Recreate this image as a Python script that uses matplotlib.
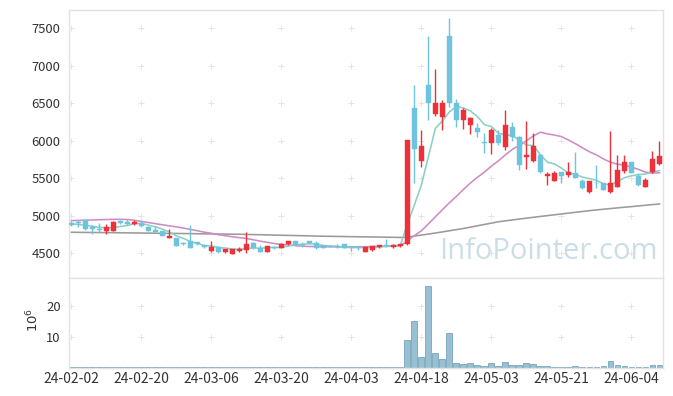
import matplotlib
matplotlib.use("Agg")
import matplotlib.pyplot as plt
import numpy as np

# ---------------- data ----------------
opens = [4905, 4915, 4944, 4845, 4830, 4802, 4802, 4925, 4918, 4887,
         4909, 4856, 4811, 4798, 4709, 4700, 4633, 4664, 4647, 4611,
         4531, 4589, 4518, 4487, 4536, 4544, 4642, 4567, 4522, 4585,
         4576, 4620, 4664, 4620, 4664, 4633, 4611, 4602, 4592, 4620,
         4575, 4575, 4522, 4540, 4580, 4607, 4580, 4598, 4620, 6433,
         5735, 6744, 6358, 6322, 7397, 6500, 6278, 6211, 6175, 5989,
         5967, 6078, 5922, 6189, 6056, 5790, 5735, 5811, 5536, 5469,
         5580, 5540, 5567, 5464, 5313, 5440, 5433, 5313, 5389, 5602,
         5713, 5531, 5389, 5589, 5691]
highs = [4935, 4945, 4950, 4880, 4905, 4885, 4925, 4940, 4958, 4950,
         4944, 4860, 4864, 4800, 4820, 4705, 4650, 4880, 4655, 4615,
         4664, 4595, 4560, 4560, 4589, 4790, 4650, 4611, 4600, 4602,
         4640, 4668, 4670, 4645, 4670, 4664, 4615, 4610, 4620, 4625,
         4590, 4600, 4585, 4602, 4615, 4695, 4620, 4625, 6011, 6744,
         6144, 7397, 6953, 6544, 7633, 6553, 6433, 6313, 6233, 6100,
         6167, 6144, 6411, 6247, 6060, 6269, 6100, 5830, 5589, 5602,
         5582, 5722, 5856, 5485, 5470, 5678, 5440, 6131, 5811, 5811,
         5720, 5565, 5510, 5864, 6002]
lows = [4860, 4850, 4815, 4760, 4790, 4758, 4800, 4890, 4878, 4878,
        4856, 4800, 4785, 4725, 4700, 4600, 4612, 4567, 4615, 4575,
        4522, 4510, 4510, 4485, 4522, 4509, 4560, 4522, 4515, 4560,
        4570, 4615, 4605, 4590, 4630, 4560, 4570, 4585, 4570, 4565,
        4535, 4540, 4520, 4535, 4575, 4589, 4575, 4590, 4611, 5442,
        5655, 6278, 6331, 6144, 6456, 6180, 6153, 6091, 6056, 5833,
        5822, 5950, 5878, 6000, 5611, 5624, 5722, 5567, 5411, 5460,
        5433, 5520, 5500, 5360, 5310, 5376, 5344, 5300, 5380, 5570,
        5567, 5400, 5389, 5567, 5680]
closes = [4878, 4905, 4820, 4822, 4805, 4845, 4915, 4900, 4887, 4922,
          4864, 4802, 4789, 4731, 4736, 4602, 4630, 4576, 4620, 4580,
          4584, 4513, 4553, 4553, 4562, 4624, 4567, 4522, 4598, 4575,
          4624, 4664, 4611, 4611, 4633, 4576, 4576, 4589, 4588, 4567,
          4571, 4571, 4580, 4598, 4611, 4600, 4611, 4620, 6011, 5887,
          5931, 6500, 6500, 6500, 6500, 6278, 6411, 6300, 6122, 5967,
          6144, 5967, 6211, 6047, 5680, 5811, 5931, 5589, 5558, 5567,
          5536, 5589, 5509, 5376, 5464, 5433, 5344, 5433, 5611, 5713,
          5567, 5411, 5478, 5758, 5798]
volume_m = [0.10, 0.08, 0.12, 0.09, 0.07, 0.08, 0.12, 0.08, 0.06, 0.07,
            0.08, 0.09, 0.07, 0.10, 0.08, 0.12, 0.07, 0.15, 0.08, 0.07,
            0.09, 0.10, 0.07, 0.08, 0.06, 0.14, 0.08, 0.07, 0.06, 0.05,
            0.07, 0.08, 0.06, 0.05, 0.06, 0.07, 0.05, 0.05, 0.04, 0.06,
            0.05, 0.05, 0.06, 0.06, 0.05, 0.08, 0.05, 0.06, 9.1, 15.3,
            3.4, 26.8, 4.8, 2.8, 11.3, 1.5, 1.2, 1.5, 0.8, 0.5,
            1.5, 0.5, 1.8, 0.8, 0.8, 1.5, 1.2, 0.5, 0.5, 0.15,
            0.12, 0.15, 0.5, 0.15, 0.12, 0.15, 0.5, 2.2, 0.8, 0.5,
            0.15, 0.15, 0.12, 0.8, 0.8]
ma5 = [4890, 4885, 4872, 4860, 4846, 4839, 4841, 4857, 4870, 4894,
       4898, 4875, 4853, 4822, 4784, 4732, 4698, 4655, 4633, 4602,
       4598, 4575, 4570, 4557, 4553, 4561, 4572, 4566, 4575, 4577,
       4577, 4597, 4614, 4617, 4629, 4619, 4601, 4597, 4592, 4579,
       4578, 4577, 4575, 4577, 4586, 4592, 4600, 4608, 4891, 5146,
       5412, 5790, 6166, 6264, 6386, 6456, 6438, 6398, 6322, 6216,
       6189, 6100, 6082, 6067, 6010, 5943, 5936, 5812, 5714, 5691,
       5636, 5568, 5552, 5515, 5495, 5474, 5425, 5410, 5457, 5507,
       5534, 5547, 5556, 5585, 5602]
ma20 = [4935, 4938, 4941, 4944, 4947, 4950, 4952, 4953, 4950, 4940,
        4925, 4910, 4895, 4880, 4866, 4852, 4836, 4818, 4800, 4781,
        4767, 4747, 4734, 4720, 4708, 4697, 4680, 4661, 4646, 4629,
        4617, 4610, 4601, 4595, 4590, 4589, 4586, 4587, 4585, 4585,
        4584, 4587, 4588, 4590, 4593, 4592, 4594, 4599, 4669, 4735,
        4800, 4892, 4987, 5081, 5174, 5259, 5351, 5437, 5513, 5583,
        5662, 5732, 5813, 5886, 5939, 6000, 6066, 6114, 6092, 6076,
        6056, 6010, 5961, 5905, 5853, 5811, 5757, 5714, 5688, 5676,
        5647, 5619, 5582, 5568, 5574]
ma120 = [4780, 4779, 4778, 4777, 4776, 4775, 4774, 4773, 4772, 4771,
         4770, 4769, 4767, 4766, 4765, 4764, 4763, 4762, 4760, 4759,
         4758, 4757, 4756, 4754, 4753, 4751, 4749, 4747, 4745, 4742,
         4740, 4738, 4736, 4734, 4732, 4729, 4727, 4726, 4724, 4723,
         4721, 4720, 4718, 4717, 4716, 4714, 4713, 4711, 4716, 4729,
         4743, 4756, 4770, 4785, 4800, 4815, 4830, 4848, 4866, 4884,
         4902, 4920, 4932, 4944, 4956, 4968, 4980, 4991, 5002, 5013,
         5024, 5035, 5046, 5057, 5068, 5078, 5087, 5096, 5105, 5114,
         5122, 5131, 5140, 5149, 5158]
tick_pos = [0, 10, 20, 30, 40, 50, 60, 70, 80]
tick_labels = ["24-02-02", "24-02-20", "24-03-06", "24-03-20", "24-04-03",
               "24-04-18", "24-05-03", "24-05-21", "24-06-04"]
price_ticks = [4500, 5000, 5500, 6000, 6500, 7000, 7500]
vol_ticks = [10, 20]

# ---------------- style ----------------
plt.rcParams['font.family'] = ['Noto Sans CJK KR', 'DejaVu Sans']
UP = '#ef3038'
DOWN = '#6ec4dc'
TXT = '#333333'
SPINE = '#e3e3e3'
GRIDC = '#e4e4e4'

W, H = 673, 396
fig = plt.figure(figsize=(W / 100, H / 100), dpi=100)
ax = fig.add_axes([69 / W, 1 - 278 / H, (663 - 69) / W, (278 - 10) / H])
axv = fig.add_axes([69 / W, 1 - 367.5 / H, (663 - 69) / W, (367.5 - 278) / H], sharex=ax)

o = np.array(opens, float)
h = np.array(highs, float)
l = np.array(lows, float)
c = np.array(closes, float)
x = np.arange(len(c))
up = c >= o
cols = np.where(up, UP, DOWN)

# moving averages
ax.plot(x, ma120, color='#9a9a9a', lw=1.15, zorder=1)
ax.plot(x, ma20, color='#cf8cc4', lw=1.15, zorder=1)
ax.plot(x, ma5, color='#8ccfc4', lw=1.15, zorder=1)

# candles
ax.vlines(x, l, h, colors=cols, lw=1.0, zorder=2)
body_lo = np.minimum(o, c)
body_h = np.maximum(np.abs(c - o), 8)
ax.bar(x, body_h, bottom=body_lo, width=0.68, color=cols, edgecolor=cols,
       linewidth=0.3, zorder=3)

ax.set_xlim(-0.33, 84.5)
ax.set_ylim(4170, 7744)
ax.set_yticks(price_ticks)
ax.set_yticklabels([str(t) for t in price_ticks])
ax.tick_params(axis='x', which='both', bottom=False, labelbottom=False)
ax.tick_params(axis='y', length=0, labelsize=9.4, colors=TXT, pad=6)

# volume
axv.bar(x, volume_m, width=0.85, color='#98c0d2', edgecolor='#78a5bb', linewidth=0.6, zorder=2)
axv.set_ylim(0, 29.3)
axv.set_yticks(vol_ticks)
axv.set_yticklabels([str(t) for t in vol_ticks])
axv.set_xticks(tick_pos)
axv.set_xticklabels(tick_labels)
axv.tick_params(axis='both', length=0, colors=TXT)
axv.tick_params(axis='y', pad=6, labelsize=9.4)
axv.tick_params(axis='x', pad=3, labelsize=10)
fig.text(33 / W, 1 - 320 / H, r'$10^6$', rotation=90, ha='center', va='center',
         fontsize=9.5, color=TXT)

for a, yt in ((ax, price_ticks), (axv, vol_ticks)):
    for s in a.spines.values():
        s.set_color(SPINE)
        s.set_linewidth(1.0)
    gx, gy = np.meshgrid(tick_pos, yt)
    a.scatter(gx.ravel(), gy.ravel(), marker='+', s=14, color=GRIDC, linewidths=0.7, zorder=0)

# watermark
ax.text(0.991, 0.045, 'InfoPointer.com', transform=ax.transAxes, ha='right', va='bottom',
        fontsize=21, color='#c9dce6', family=['Open Sans', 'DejaVu Sans'], zorder=0.5, alpha=0.95)

fig.savefig('out.png', dpi=100)
